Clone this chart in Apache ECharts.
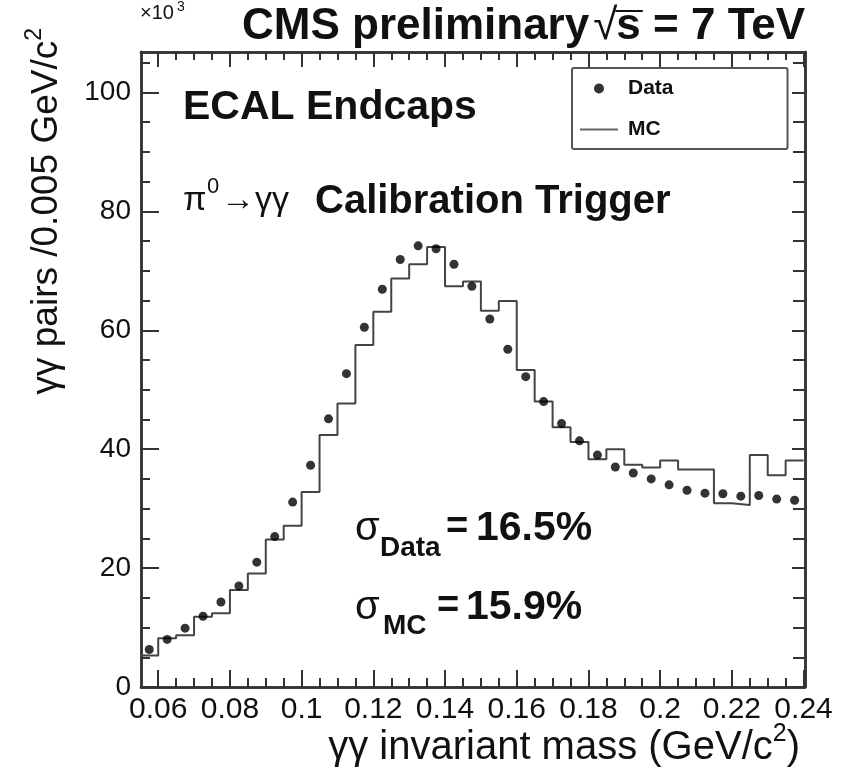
<!DOCTYPE html>
<html>
<head>
<meta charset="utf-8">
<script src="https://cdn.jsdelivr.net/npm/echarts@6/dist/echarts.min.js"></script>
<style>
  html, body { margin: 0; padding: 0; background: #fff; }
  #chart { width: 848px; height: 772px; }
</style>
</head>
<body>
<div id="chart"></div>
<script>
// ---------- data (values in units of 10^3 pairs) ----------
const binCenters = [0.0575, 0.0625, 0.0675, 0.0725, 0.0775, 0.0825, 0.0875, 0.0925, 0.0975, 0.1025,
                    0.1075, 0.1125, 0.1175, 0.1225, 0.1275, 0.1325, 0.1375, 0.1425, 0.1475, 0.1525,
                    0.1575, 0.1625, 0.1675, 0.1725, 0.1775, 0.1825, 0.1875, 0.1925, 0.1975, 0.2025,
                    0.2075, 0.2125, 0.2175, 0.2225, 0.2275, 0.2325, 0.2375];
const binWidth = 0.005;
const dataValues = [6.3, 8.0, 9.9, 11.9, 14.3, 17.0, 21.0, 25.3, 31.1, 37.3,
                    45.1, 52.7, 60.5, 66.9, 71.9, 74.2, 73.7, 71.1, 67.4, 61.9,
                    56.8, 52.2, 48.0, 44.3, 41.4, 39.0, 37.0, 36.0, 35.0, 34.0,
                    33.1, 32.6, 32.5, 32.1, 32.2, 31.6, 31.4];
const mcValues   = [5.3, 8.2, 8.7, 11.8, 12.4, 16.3, 19.1, 24.8, 27.1, 32.8,
                    42.4, 47.7, 57.5, 63.1, 68.7, 71.1, 74.0, 67.4, 68.2, 63.3,
                    64.9, 53.3, 48.0, 43.7, 41.2, 38.3, 40.0, 37.4, 36.9, 38.1,
                    36.6, 36.6, 30.9, 30.6, 39.0, 35.6, 38.1];
const xMajorTicks = [0.06, 0.08, 0.10, 0.12, 0.14, 0.16, 0.18, 0.20, 0.22, 0.24];
const yMajorTicks = [0, 20, 40, 60, 80, 100];
const xRange = [0.0552, 0.2404];
const yRange = [0, 106.8];

// ---------- derived ----------
const r = v => Math.round(v * 100000) / 100000;
const xMinorTicks = [];
for (let v = 0.055; v <= xRange[1] + 1e-9; v += 0.005) {
  const vv = r(v);
  if (!xMajorTicks.some(m => Math.abs(m - vv) < 1e-6)) xMinorTicks.push(vv);
}
const yMinorTicks = [];
for (let v = 5; v <= yRange[1]; v += 5) if (v % 20 !== 0) yMinorTicks.push(v);

const dataPoints = binCenters.map((c, i) => [c, dataValues[i]]);
const mcPoints = binCenters.map((c, i) => [r(c - binWidth / 2), mcValues[i]]);
mcPoints.push([r(binCenters[binCenters.length - 1] + binWidth / 2), mcValues[mcValues.length - 1]]);

const FONT = "'Liberation Sans', Arial, Helvetica, sans-serif";
const FRAME = '#333';
const INK = '#111';

// text measuring for laying out the title pieces
const mctx = document.createElement('canvas').getContext('2d');
function tw(text, font) { mctx.font = font; return mctx.measureText(text).width; }

const TFONT_B = "bold 44px " + FONT;
const TFONT_R = "44px " + FONT;
const titleX0 = 242;
const wCMS = tw('CMS preliminary', TFONT_B);
const sqrtX = titleX0 + wCMS + 4;
const wSqrt = tw('√', TFONT_R);
const sX = sqrtX + wSqrt - 1;
const wS = tw('s', TFONT_B);
const restX = sX + wS;

function xAx(pos, ticks, len, labels) {
  return {
    type: 'value', position: pos, min: xRange[0], max: xRange[1],
    axisLine: { show: true, onZero: false, lineStyle: { color: FRAME, width: 2.5 } },
    axisTick: { show: true, inside: true, length: len, customValues: ticks, lineStyle: { color: FRAME, width: 2 } },
    axisLabel: labels ? {
      show: true, customValues: ticks, margin: 8, color: INK, fontSize: 30, fontFamily: FONT,
      formatter: v => String(parseFloat((+v).toFixed(3)))
    } : { show: false },
    splitLine: { show: false }
  };
}
function yAx(pos, ticks, len, labels) {
  return {
    type: 'value', position: pos, min: yRange[0], max: yRange[1],
    axisLine: { show: true, onZero: false, lineStyle: { color: FRAME, width: 2.5 } },
    axisTick: { show: true, inside: true, length: len, customValues: ticks, lineStyle: { color: FRAME, width: 2 } },
    axisLabel: labels ? {
      show: true, customValues: ticks, margin: 10, color: INK, fontSize: 28, fontFamily: FONT
    } : { show: false },
    splitLine: { show: false }
  };
}

const chart = echarts.init(document.getElementById('chart'), null, { renderer: 'canvas' });
chart.setOption({
  backgroundColor: '#fff',
  animation: false,
  grid: { left: 141, right: 43, top: 52, bottom: 85, containLabel: false },
  xAxis: [
    xAx('bottom', xMajorTicks, 17, true),
    xAx('bottom', xMinorTicks, 9, false),
    xAx('top', xMajorTicks, 15, false),
    xAx('top', xMinorTicks, 8, false)
  ],
  yAxis: [
    yAx('left', yMajorTicks, 18, true),
    yAx('left', yMinorTicks, 9, false),
    yAx('right', yMajorTicks, 13, false),
    yAx('right', yMinorTicks, 12, false)
  ],
  legend: {
    orient: 'vertical', left: 572, top: 68,
    padding: [10, 114, 9, 8],
    itemGap: 20, itemWidth: 38, itemHeight: 10,
    borderColor: '#555', borderWidth: 2, borderRadius: 2,
    backgroundColor: '#fff',
    textStyle: { fontFamily: FONT, fontWeight: 'bold', fontSize: 21, color: INK, padding: [0, 0, 0, 5] },
    data: [
      { name: 'Data', icon: 'circle' },
      { name: 'MC', icon: 'path://M0,0 H38 V2 H0 Z', itemStyle: { color: '#666' } }
    ]
  },
  series: [
    {
      name: 'MC', type: 'line', step: 'end', data: mcPoints,
      xAxisIndex: 0, yAxisIndex: 0,
      symbol: 'none', showSymbol: false,
      lineStyle: { color: '#444', width: 2 },
      itemStyle: { color: '#444' },
      clip: true, z: 2
    },
    {
      name: 'Data', type: 'scatter', data: dataPoints,
      xAxisIndex: 0, yAxisIndex: 0,
      symbol: 'circle', symbolSize: 9,
      itemStyle: { color: '#000' }, z: 3
    }
  ],
  graphic: [
    // x10^3
    { type: 'text', left: 140, top: 3, style: { text: '×10', font: "20px " + FONT, fill: INK } },
    { type: 'text', left: 177, top: 0, style: { text: '3', font: "14px " + FONT, fill: INK } },
    // Title: CMS preliminary sqrt(s) = 7 TeV
    { type: 'text', x: titleX0, y: 5, style: { text: 'CMS preliminary', font: TFONT_B, fill: INK } },
    { type: 'text', x: sqrtX, y: 5, style: { text: '√', font: TFONT_R, fill: INK } },
    { type: 'line', shape: { x1: sX - 1, y1: 11, x2: sX + wS + 2, y2: 11 }, style: { stroke: INK, lineWidth: 2 } },
    { type: 'text', x: sX, y: 5, style: { text: 's', font: TFONT_B, fill: INK } },
    { type: 'text', x: restX, y: 5, style: { text: ' = 7 TeV', font: TFONT_B, fill: INK } },
    // ECAL Endcaps
    { type: 'text', left: 183, top: 87, style: { text: 'ECAL Endcaps', font: "bold 41px " + FONT, fill: INK } },
    // pi0 -> gamma gamma
    { type: 'text', left: 183, top: 184, style: { text: 'π', font: "34px " + FONT, fill: INK } },
    { type: 'text', left: 207, top: 176, style: { text: '0', font: "22px " + FONT, fill: INK } },
    { type: 'text', left: 221, top: 184, style: { text: '→γγ', font: "34px " + FONT, fill: INK } },
    { type: 'text', left: 315, top: 182, style: { text: 'Calibration Trigger', font: "bold 40px " + FONT, fill: INK } },
    // sigma Data
    { type: 'text', left: 355, top: 509, style: { text: 'σ', font: "40px " + FONT, fill: INK } },
    { type: 'text', left: 380, top: 534, style: { text: 'Data', font: "bold 28px " + FONT, fill: INK } },
    { type: 'text', left: 446, top: 509, style: { text: '=', font: "bold 38px " + FONT, fill: INK } },
    { type: 'text', left: 476, top: 508, style: { text: '16.5%', font: "bold 41px " + FONT, fill: INK } },
    // sigma MC
    { type: 'text', left: 355, top: 588, style: { text: 'σ', font: "40px " + FONT, fill: INK } },
    { type: 'text', left: 383, top: 612, style: { text: 'MC', font: "bold 28px " + FONT, fill: INK } },
    { type: 'text', left: 437, top: 588, style: { text: '=', font: "bold 38px " + FONT, fill: INK } },
    { type: 'text', left: 466, top: 587, style: { text: '15.9%', font: "bold 41px " + FONT, fill: INK } },
    // x title
    { type: 'text', right: 48, top: 722, style: { text: '{a|γγ invariant mass (GeV/c}{s|2}{a|)}', font: "40px " + FONT,
      rich: { a: { fontSize: 40, fontFamily: FONT, fill: INK, verticalAlign: 'bottom', lineHeight: 46 },
              s: { fontSize: 25, fontFamily: FONT, fill: INK, verticalAlign: 'top', lineHeight: 46 } } } },
    // y title (rotated)
    { type: 'text', x: 44, y: 28, rotation: Math.PI / 2, style: { text: '{a|γγ pairs /0.005 GeV/c}{s|2}', font: "37px " + FONT,
      align: 'right', verticalAlign: 'middle',
      rich: { a: { fontSize: 37, fontFamily: FONT, fill: INK, verticalAlign: 'bottom', lineHeight: 42 },
              s: { fontSize: 23, fontFamily: FONT, fill: INK, verticalAlign: 'top', lineHeight: 42 } } } }
  ]
});
</script>
</body>
</html>
